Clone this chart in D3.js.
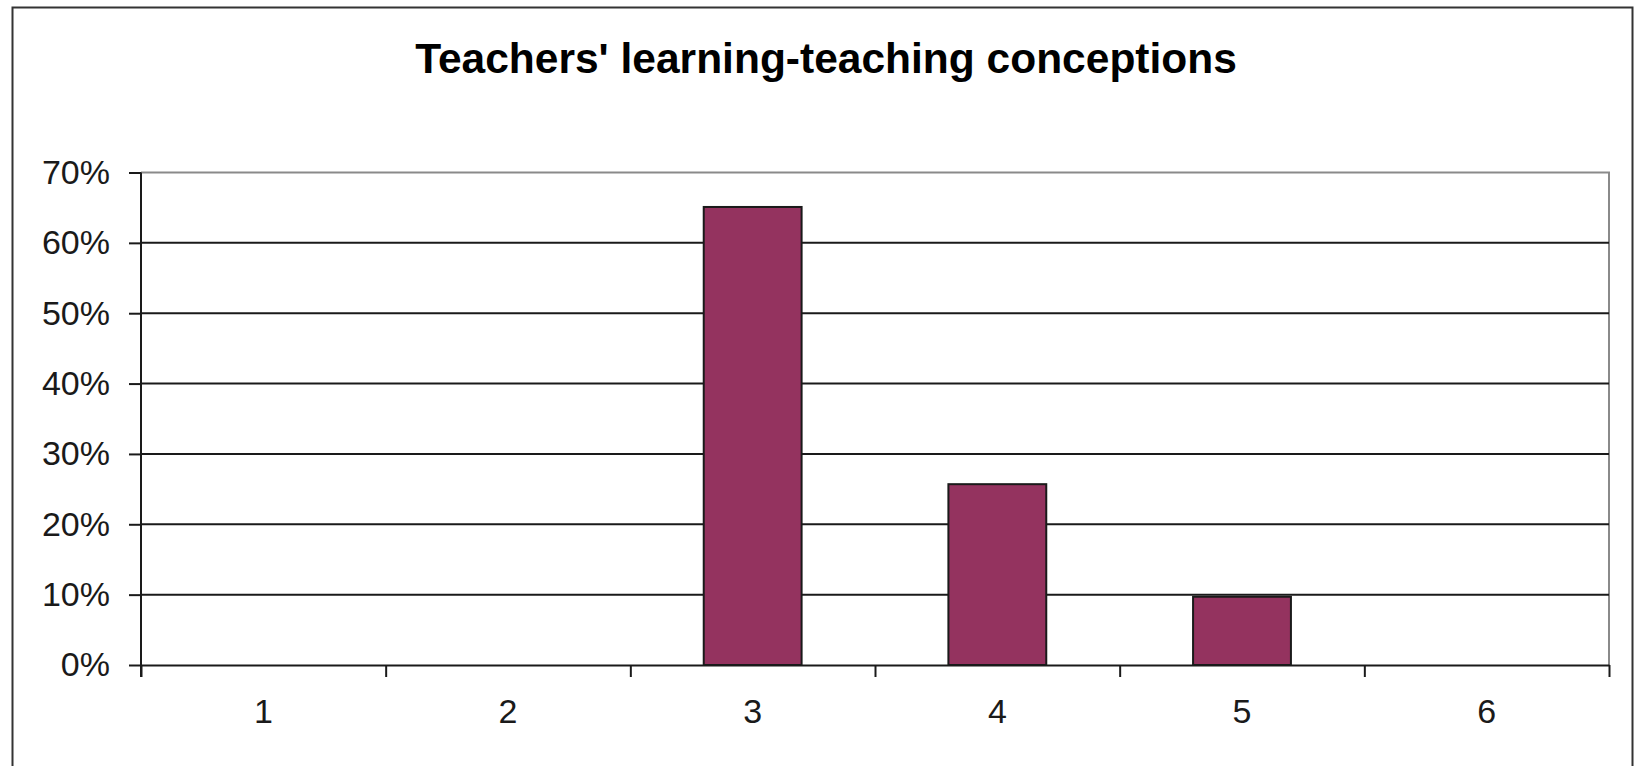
<!DOCTYPE html>
<html>
<head>
<meta charset="utf-8">
<script src="https://cdn.jsdelivr.net/npm/d3@7"></script>
<style>
  body { margin: 0; background: #fff; }
  svg { display: block; font-family: "Liberation Sans", Arial, sans-serif; }
</style>
</head>
<body>
<svg id="chart" width="1634" height="766"></svg>
<script>
// data
var categories = ["1", "2", "3", "4", "5", "6"];
var shares = [0, 0, 0.651, 0.257, 0.097, 0];
var yTicks = [0, 0.1, 0.2, 0.3, 0.4, 0.5, 0.6, 0.7];
var title = "Teachers' learning-teaching conceptions";

var svg = d3.select("#chart"),
    width = +svg.attr("width"),
    height = +svg.attr("height");

var margin = { top: 172.5, right: 25, bottom: 101, left: 141 };
var plotW = width - margin.left - margin.right,
    plotH = height - margin.top - margin.bottom;

// outer chart frame
svg.append("rect")
    .attr("x", 12.5).attr("y", 7.5)
    .attr("width", 1620).attr("height", 770)
    .attr("fill", "#fff")
    .attr("stroke", "#333")
    .attr("stroke-width", 2);

svg.append("text")
    .attr("x", 826).attr("y", 73)
    .attr("text-anchor", "middle")
    .style("font-size", "42.5px")
    .style("font-weight", "bold")
    .attr("fill", "#000")
    .text(title);

var g = svg.append("g").attr("transform", "translate(" + margin.left + "," + margin.top + ")");

var x = d3.scaleBand()
    .domain(categories)
    .range([0, plotW])
    .paddingInner(0.6)
    .paddingOuter(0.3);

var xEdge = d3.scaleLinear().domain([0, categories.length]).range([0, plotW]);

var y = d3.scaleLinear().domain([0, 0.7]).range([plotH, 0]);

// plot area top / right edges (gray)
g.append("path")
    .attr("d", "M0," + y(0.7) + "H" + plotW + "V" + y(0))
    .attr("fill", "none")
    .attr("stroke", "#8a8a8a")
    .attr("stroke-width", 2);

// gridlines
g.selectAll(".grid")
    .data(yTicks.filter(function(d) { return d > 0 && d < 0.7; }))
    .enter().append("line")
    .attr("class", "grid")
    .attr("x1", 0).attr("x2", plotW)
    .attr("y1", function(d) { return y(d); })
    .attr("y2", function(d) { return y(d); })
    .attr("stroke", "#1a1a1a")
    .attr("stroke-width", 2);

// bars
g.selectAll(".bar")
    .data(shares)
    .enter().append("rect")
    .attr("class", "bar")
    .filter(function(d) { return d > 0; })
    .attr("x", function(d, i) { return x(categories[shares.indexOf(d)]); })
    .attr("y", function(d) { return y(d); })
    .attr("width", x.bandwidth())
    .attr("height", function(d) { return y(0) - y(d); })
    .attr("fill", "#94335f")
    .attr("stroke", "#1a1a1a")
    .attr("stroke-width", 2);

// y axis
var yAxis = g.append("g")
    .call(d3.axisLeft(y).tickValues(yTicks).tickFormat(d3.format(".0%")).tickSize(12).tickPadding(19));
yAxis.selectAll("text").style("font-size", "34px").attr("fill", "#1a1a1a");
yAxis.selectAll("line, path").attr("stroke", "#1a1a1a").attr("stroke-width", 2);
yAxis.select(".domain").attr("d", "M0," + y(0.7) + "V" + (y(0) + 12));

// x axis: tick marks at category edges
var xTicks = g.append("g")
    .attr("transform", "translate(0," + plotH + ")")
    .call(d3.axisBottom(xEdge).tickValues(d3.range(0, categories.length + 1)).tickFormat("").tickSize(12).tickSizeOuter(0));
xTicks.selectAll("line, path").attr("stroke", "#1a1a1a").attr("stroke-width", 2);

// x axis: category labels
var xLabels = g.append("g")
    .attr("transform", "translate(0," + plotH + ")")
    .call(d3.axisBottom(x).tickSize(0));
xLabels.select(".domain").remove();
xLabels.selectAll("text")
    .attr("y", 58).attr("dy", 0)
    .style("font-size", "34px")
    .attr("fill", "#1a1a1a");
</script>
</body>
</html>
